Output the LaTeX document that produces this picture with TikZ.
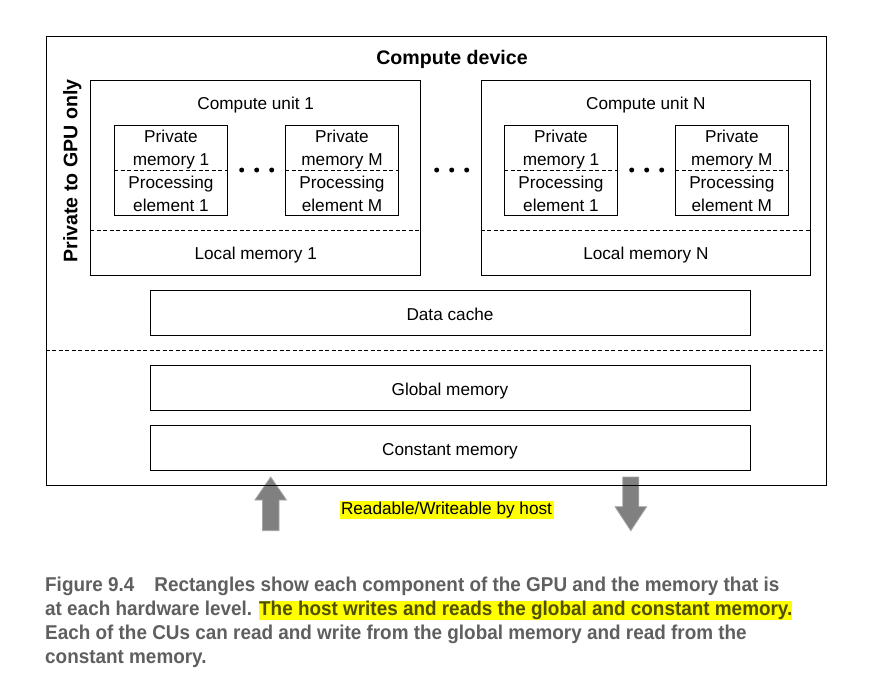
\documentclass[tikz,border=0pt]{standalone}
\usepackage{fontspec}
\setmainfont{Liberation Sans}
\newfontfamily\capfont[FakeStretch=0.945]{Liberation Sans}
\usetikzlibrary{positioning}

\definecolor{capgray}{RGB}{95,95,95}
\definecolor{hlyellow}{RGB}{255,255,0}
\definecolor{hltext}{RGB}{80,80,0}
\definecolor{arrowgray}{RGB}{128,128,128}
\definecolor{arrowedge}{RGB}{165,165,165}
\newcommand{\capmark}[1]{{\setlength{\fboxsep}{0pt}\colorbox{hlyellow}{\color{hltext}#1}}}

\begin{document}
\begin{tikzpicture}[x=1pt,y=-1pt,
  every node/.style={inner sep=0pt,font=\fontsize{17.2}{23}\selectfont},
  box/.style={draw,line width=0.8pt},
  cubox/.style={box,minimum width=330pt,minimum height=194.3pt},
  pebox/.style={box,align=center,minimum width=112.6pt,minimum height=89.3pt},
  membox/.style={box,minimum width=600pt,minimum height=45pt,text height=16.4pt,text depth=0pt},
  split/.style={line width=0.8pt,dash pattern=on 4pt off 2.5pt},
  dot/.style={circle,fill=black,minimum size=5pt},
  boldlabel/.style={anchor=base,font=\fontsize{19.6}{23}\selectfont\bfseries},
  hostarrow/.style={fill=arrowgray,draw=arrowedge,line width=0.8pt},
  caption/.style={anchor=base west,text=capgray,font=\capfont\bfseries\fontsize{20}{24}\selectfont}]
\useasboundingbox (0,0) rectangle (882,677);

% Host arrows (under the device frame)
\draw[hostarrow] (262.4,530.7) -- (262.4,500) -- (254.9,500) -- (270.7,477) -- (286.5,500) -- (279,500) -- (279,530.7) -- cycle;
\draw[hostarrow] (622.8,477) -- (638.8,477) -- (638.8,506.7) -- (646.6,506.7) -- (630.8,530.7) -- (615,506.7) -- (622.8,506.7) -- cycle;

% Compute device
\node[box,line width=0.9pt,minimum width=780pt,minimum height=449pt] (dev) at (436,260.5) {};
\node[boldlabel] (devname) at (452,64) {Compute device};
\node[boldlabel,rotate=90] (gpuonly) at (77.3,171) {Private to GPU only};
\draw[split] (dev.west |- 0,350) -- (dev.east |- 0,350);

% Compute unit 1
\node[cubox] (cu1) at (255.7,177.85) {};
\node[anchor=base] (cu1name) at ([yshift=-29.3pt]cu1.north) {Compute unit 1};
\node[pebox] (pe11) at (171,170.35) {Private\\memory 1\\Processing\\element 1};
\node[pebox] (pe1m) at (342,170.35) {Private\\memory M\\Processing\\element M};
\draw[split] (pe11.west) -- (pe11.east);
\draw[split] (pe1m.west) -- (pe1m.east);
\draw[split] ([yshift=45pt]cu1.south west) -- ([yshift=45pt]cu1.south east);
\node[anchor=base] (lm1) at ([yshift=15.7pt]cu1.south) {Local memory 1};

% Compute unit N
\node[cubox,minimum width=329.7pt] (cun) at (645.85,177.85) {};
\node[anchor=base] (cunname) at ([yshift=-29.3pt]cun.north) {Compute unit N};
\node[pebox] (pen1) at (561,170.35) {Private\\memory 1\\Processing\\element 1};
\node[pebox] (penm) at (731.8,170.35) {Private\\memory M\\Processing\\element M};
\draw[split] (pen1.west) -- (pen1.east);
\draw[split] (penm.west) -- (penm.east);
\draw[split] ([yshift=45pt]cun.south west) -- ([yshift=45pt]cun.south east);
\node[anchor=base] (lmn) at ([yshift=15.7pt]cun.south) {Local memory N};

% Ellipses
\foreach \x [count=\i] in {241.7,256.7,271.7,436.7,451.7,466.7,631.7,646.7,661.7}
  \node[dot] (dot\i) at (\x,170) {};

% Memories shared by all units
\node[membox] (cache) at (450,312.5) {Data cache};
\node[membox] (global) at (450,387.5) {Global memory};
\node[membox] (const) at (450,447.5) {Constant memory};

% Host label
\node[fill=hlyellow,inner xsep=1.5pt,inner ysep=0.6pt] (host) at (446.5,510) {Readable/Writeable by host};

% Caption
\node[caption] (cap1) at (45,591.7) {Figure 9.4\quad Rectangles show each component of the GPU and the memory that is};
\node[caption] (cap2) at (45,615.6) {at each hardware level. \capmark{The host writes and reads the global and constant memory.}};
\node[caption] (cap3) at (45,639.5) {Each of the CUs can read and write from the global memory and read from the};
\node[caption] (cap4) at (45,663.4) {constant memory.};

\end{tikzpicture}
\end{document}
